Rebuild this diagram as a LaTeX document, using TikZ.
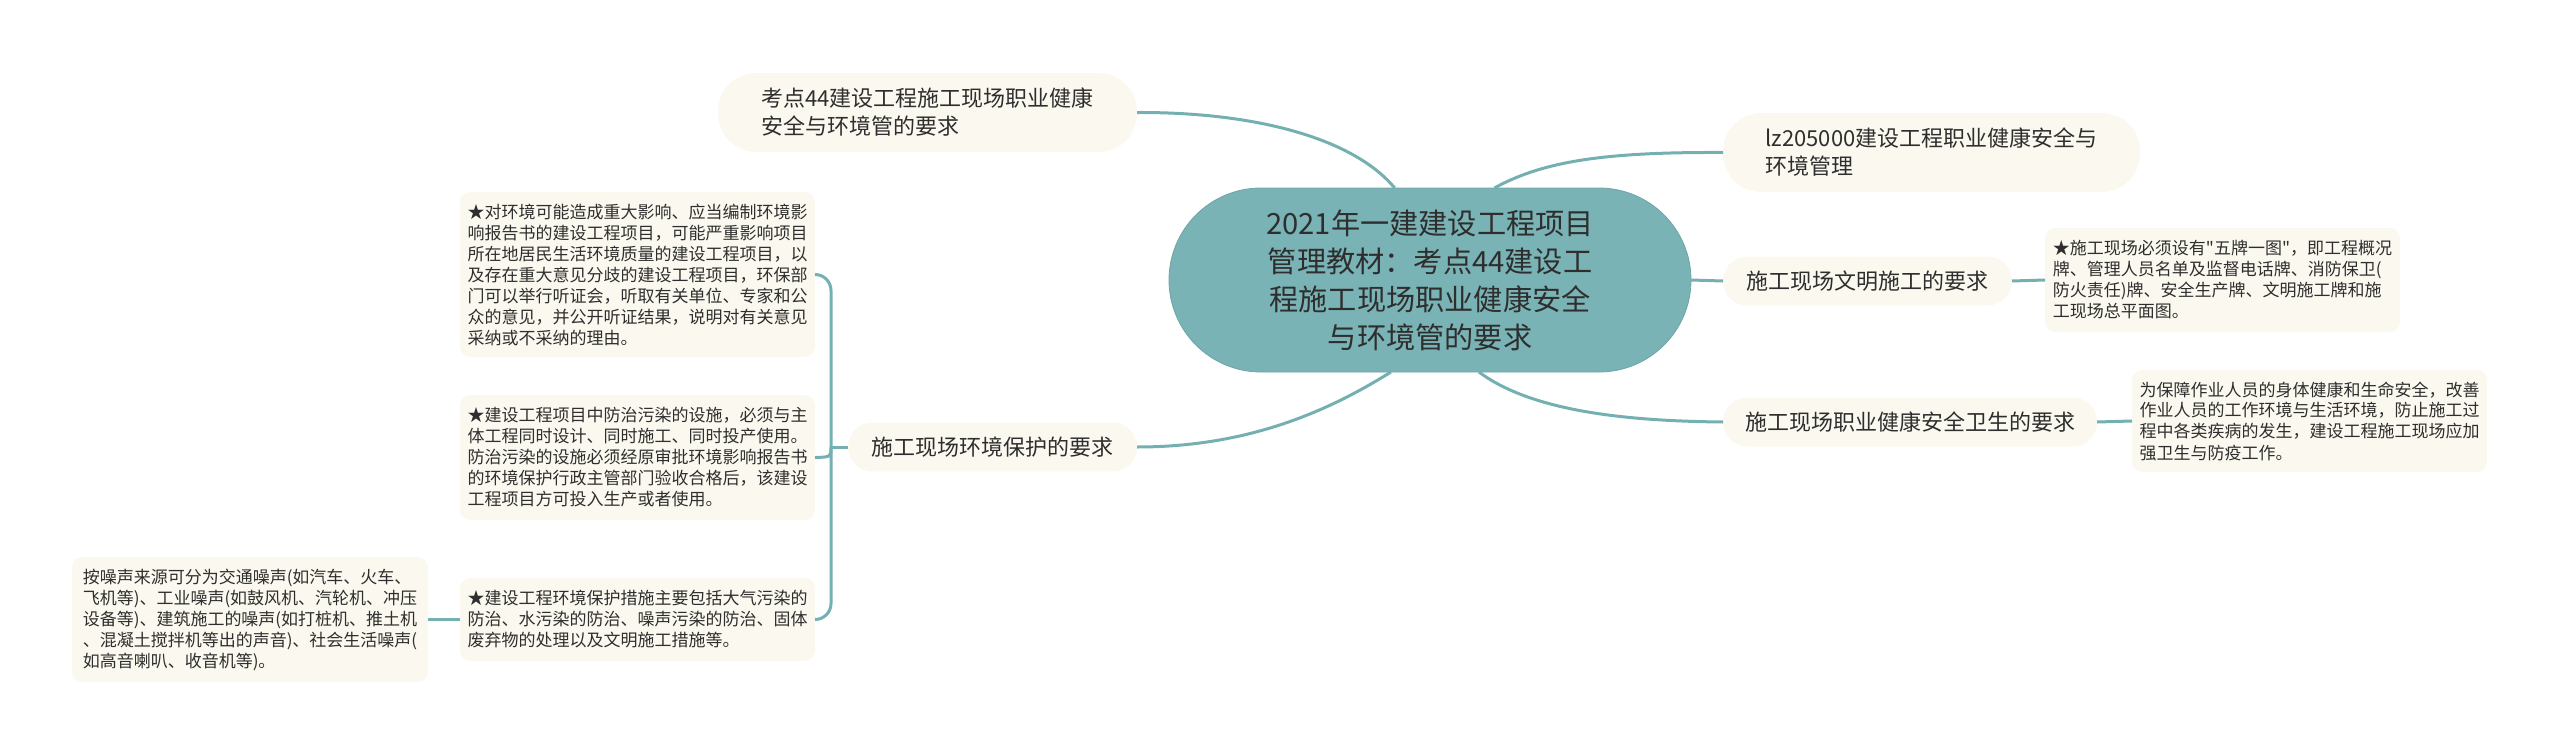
\documentclass[tikz,border=0pt]{standalone}
\usepackage{fontspec}
\setmainfont{Noto Sans CJK SC}[Ligatures=TeXOff]

\definecolor{branch}{HTML}{74AFB1}
\definecolor{cream}{HTML}{FBF9EF}
\definecolor{rootfill}{HTML}{7AB3B5}
\definecolor{ink}{HTML}{2E2E2E}

\tikzset{
  root/.style={fill=rootfill, draw=rootfill!92!black, rounded corners=46pt,
    minimum width=261pt, minimum height=92pt, align=center, text=ink,
    font=\fontsize{14.6}{19}\selectfont, outer sep=0pt},
  topic/.style={fill=cream, rounded corners=12pt, minimum height=24.5pt,
    text=ink, font=\fontsize{11}{14}\selectfont, align=left, outer sep=0pt},
  bigtopic/.style={topic, minimum height=39.5pt, rounded corners=19pt},
  leaf/.style={fill=cream, rounded corners=5pt, text=ink,
    font=\fontsize{8.5}{10.5}\selectfont, align=left,
    minimum width=177.5pt, outer sep=0pt},
  link/.style={draw=branch, line width=1.5pt},
}

\begin{document}
\begin{tikzpicture}[x=0.5pt,y=-0.5pt]
\useasboundingbox (0,0) rectangle (2560,755);

% centre
\node[root] (root) at (1430,280) {2021年一建建设工程项目\\管理教材：考点44建设工\\程施工现场职业健康安全\\与环境管的要求};

% main branches
\node[bigtopic, minimum width=209.5pt] (kd) at (927.5,112.5) {考点44建设工程施工现场职业健康\\安全与环境管的要求};
\node[bigtopic, minimum width=208.5pt] (lz) at (1931.5,152.5) {lz205000建设工程职业健康安全与\\环境管理};
\node[topic, minimum width=144.5pt] (wm) at (1867.5,281) {施工现场文明施工的要求};
\node[topic, minimum width=187pt] (ws) at (1910,422) {施工现场职业健康安全卫生的要求};
\node[topic, minimum width=144.5pt] (hb) at (992.5,447) {施工现场环境保护的要求};

% leaves
\node[leaf, minimum height=52pt] (wmA) at (2222.5,280) {★施工现场必须设有"五牌一图"，即工程概况\\牌、管理人员名单及监督电话牌、消防保卫(\\防火责任)牌、安全生产牌、文明施工牌和施\\工现场总平面图。};
\node[leaf, minimum height=51pt] (wsA) at (2309.5,421) {为保障作业人员的身体健康和生命安全，改善\\作业人员的工作环境与生活环境，防止施工过\\程中各类疾病的发生，建设工程施工现场应加\\强卫生与防疫工作。};
\node[leaf, minimum height=82.5pt] (hbA) at (637.5,274.5) {★对环境可能造成重大影响、应当编制环境影\\响报告书的建设工程项目，可能严重影响项目\\所在地居民生活环境质量的建设工程项目，以\\及存在重大意见分歧的建设工程项目，环保部\\门可以举行听证会，听取有关单位、专家和公\\众的意见，并公开听证结果，说明对有关意见\\采纳或不采纳的理由。};
\node[leaf, minimum height=62.5pt] (hbB) at (637.5,457.5) {★建设工程项目中防治污染的设施，必须与主\\体工程同时设计、同时施工、同时投产使用。\\防治污染的设施必须经原审批环境影响报告书\\的环境保护行政主管部门验收合格后，该建设\\工程项目方可投入生产或者使用。};
\node[leaf, minimum height=41.5pt] (hbC) at (637.5,619.5) {★建设工程环境保护措施主要包括大气污染的\\防治、水污染的防治、噪声污染的防治、固体\\废弃物的处理以及文明施工措施等。};
\node[leaf, minimum width=178pt, minimum height=62.5pt] (hbCa) at (250,619.5) {按噪声来源可分为交通噪声(如汽车、火车、\\飞机等)、工业噪声(如鼓风机、汽轮机、冲压\\设备等)、建筑施工的噪声(如打桩机、推土机\\、混凝土搅拌机等出的声音)、社会生活噪声(\\如高音喇叭、收音机等)。};

\coordinate (hbJ) at (831,447);

% connectors
\draw[link] (kd.east) .. controls (1260,112) and (1355,140) .. (root.111);
\draw[link] (root.55) .. controls (1545,160) and (1610,152) .. (lz.west);
\draw[link] (root.east) -- (wm.west);
\draw[link] (root.-62) .. controls (1530,410) and (1620,421) .. (ws.west);
\draw[link] (hb.east) .. controls (1250,447) and (1330,410) .. (root.-113);
\draw[link] (wm.east) -- (wmA.west);
\draw[link] (ws.east) -- (wsA.west);
\draw[link] (hb.west) -- (hbJ);
\draw[link, rounded corners=8pt] (hbJ) |- (hbA.east);
\draw[link] (hbJ) .. controls (831,457) .. (hbB.east);
\draw[link, rounded corners=8pt] (hbJ) |- (hbC.east);
\draw[link] (hbC.west) -- (hbCa.east);
\end{tikzpicture}
\end{document}
